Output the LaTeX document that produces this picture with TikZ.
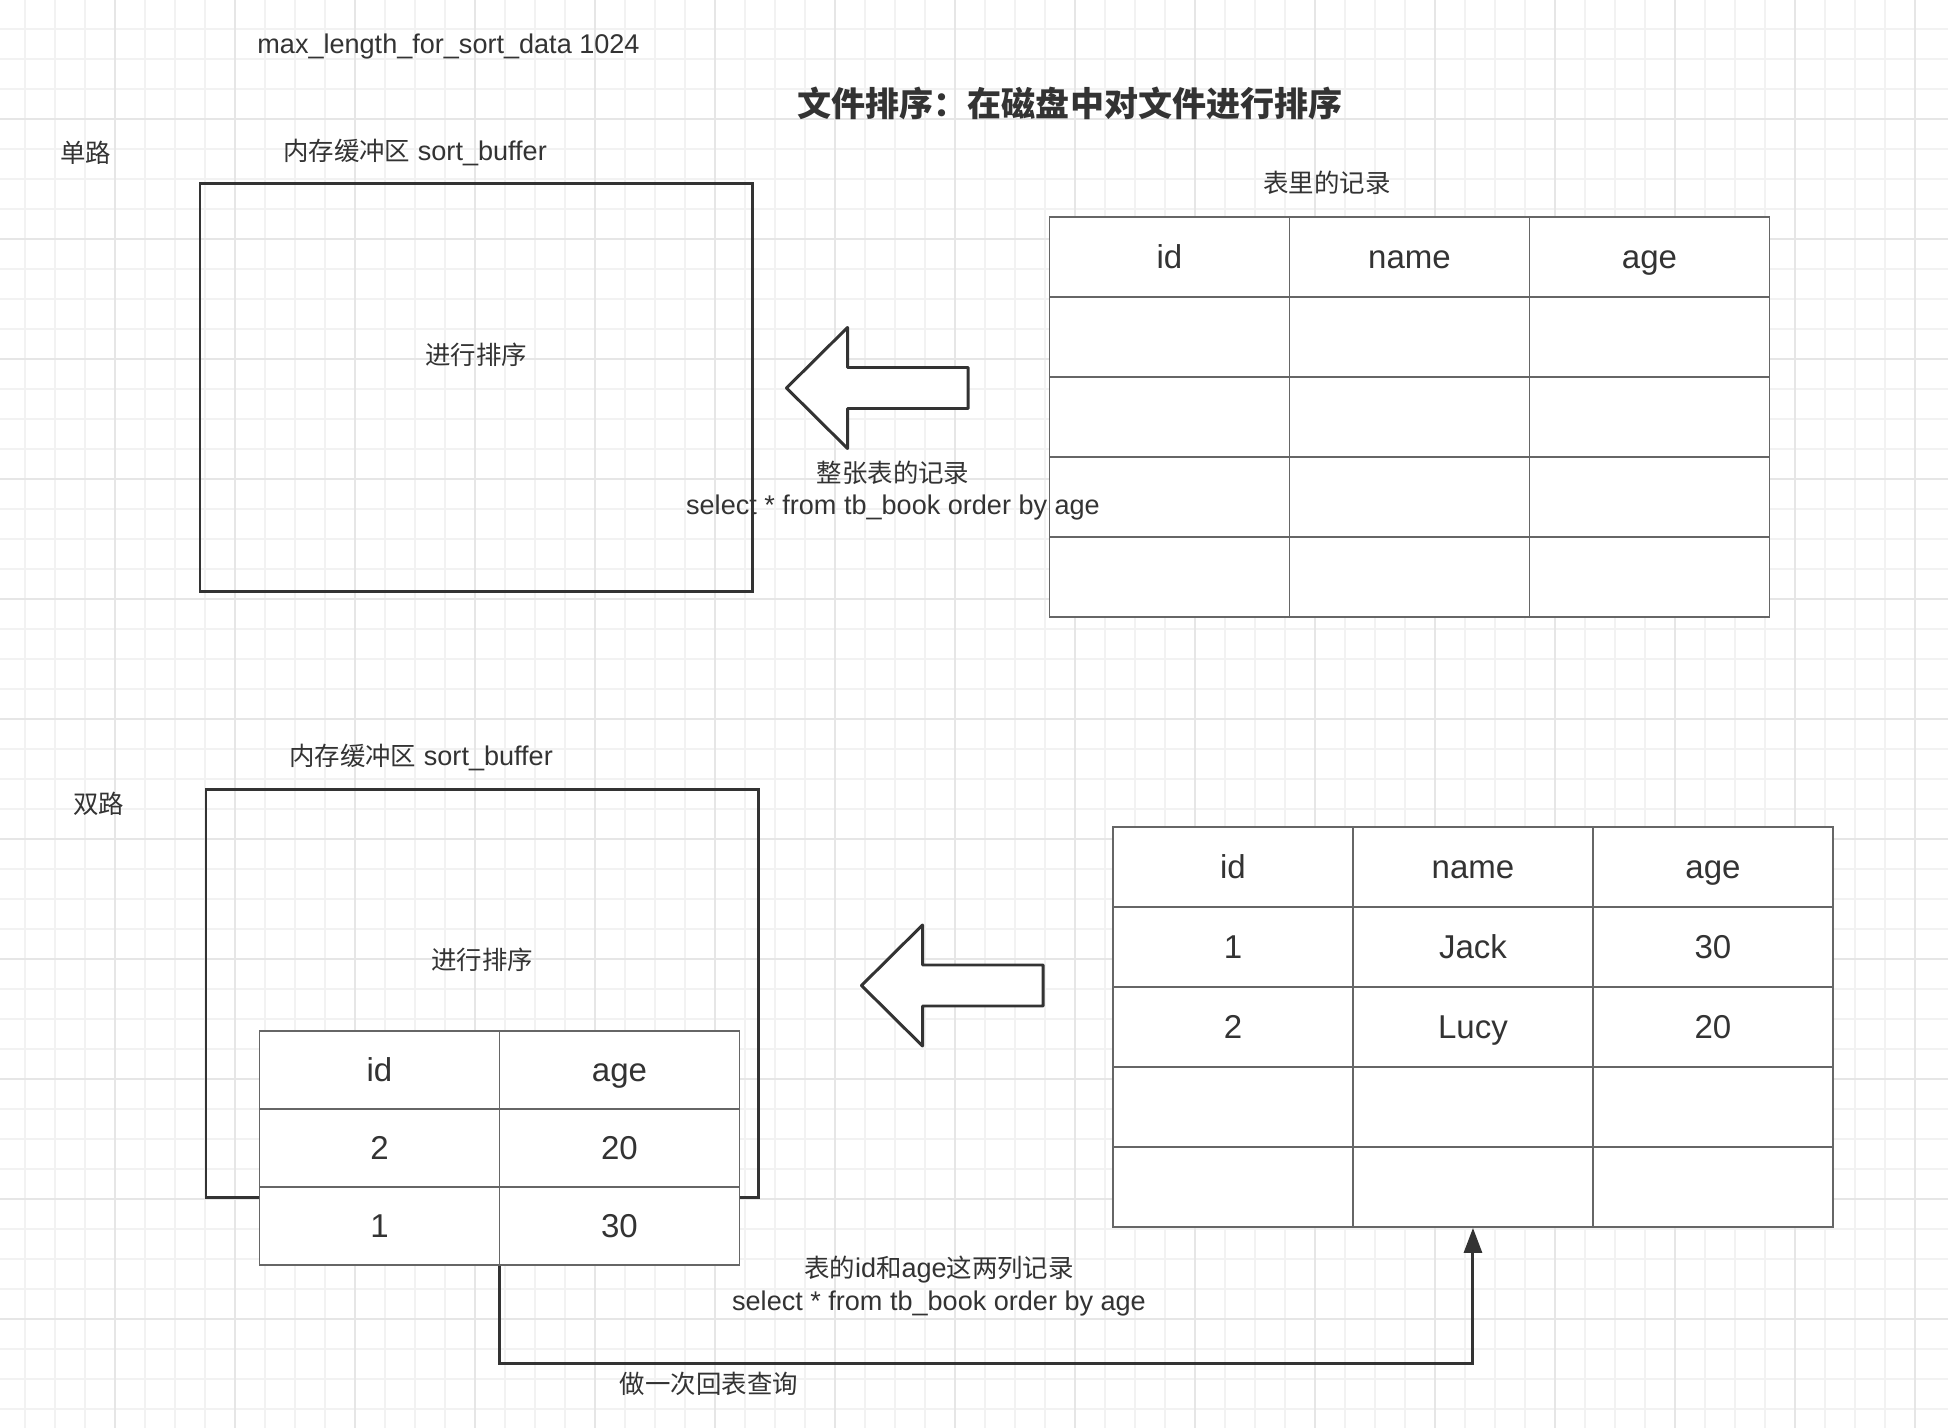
\documentclass[tikz,border=0pt]{standalone}
\usepackage{fontspec}
\setmainfont{Liberation Sans}
\newfontfamily\cjk{Noto Sans CJK SC}[Scale=0.94]
\usetikzlibrary{arrows.meta, matrix, positioning}
\definecolor{inkGrey}{HTML}{333333}
\definecolor{lineGrey}{HTML}{666666}
\definecolor{gridMinor}{HTML}{F2F2F2}
\definecolor{gridMajor}{HTML}{E6E6E6}
\tikzset{
  % paper grid behind everything
  gridminor/.style  = {gridMinor, line width=0.8pt},
  gridmajor/.style  = {gridMajor, line width=1.0pt},
  bufbox/.style     = {draw=inkGrey, line width=1.7pt, inner sep=0pt,
                       minimum width=11.04cm, minimum height=8.16cm},
  cell/.style       = {draw=lineGrey, line width=1.1pt, fill=white, inner sep=0pt,
                       outer sep=0pt, minimum width=4.8cm, minimum height=1.6cm,
                       text height=15pt, text depth=1.5pt, anchor=center,
                       text=inkGrey, font=\fontsize{18.8}{22}\selectfont},
  rectab/.style     = {matrix of nodes, nodes in empty cells, inner sep=0pt,
                       outer sep=0pt, column sep=-1.1pt, row sep=-1.1pt,
                       anchor=north west, nodes={cell}},
  blockarrow/.style = {draw=inkGrey, fill=white, line width=1.7pt, line join=round},
  conn/.style       = {draw=inkGrey, line width=1.7pt,
                       -{Triangle[length=5mm, width=3.6mm]}},
  lbl/.style        = {font=\fontsize{15.4}{18.4}\selectfont, text=inkGrey,
                       align=center, inner sep=0pt},
  ttl/.style        = {font=\fontsize{20.6}{24}\selectfont, text=inkGrey, inner sep=0pt},
}

\begin{document}
\begin{tikzpicture}[x=1cm,y=1cm]
  \fill[white] (0,0) rectangle (38.96,-28.56);
  \useasboundingbox (0,0) rectangle (38.96,-28.56);
  % grid
  \foreach \gx in {0.5,1.1,...,38.9} \draw[gridminor] (\gx,0) -- (\gx,-28.56);
  \foreach \gy in {0.58,1.18,...,28.56} \draw[gridminor] (0,-\gy) -- (38.96,-\gy);
  \foreach \gx in {2.3,4.7,...,38.9} \draw[gridmajor] (\gx,0) -- (\gx,-28.56);
  \foreach \gy in {2.38,4.78,...,28.56} \draw[gridmajor] (0,-\gy) -- (38.96,-\gy);

  \node[lbl] (maxLen) at (8.97,-0.94) {max\_length\_for\_sort\_data 1024};
  \node[ttl] (title) at (21.4,-2.06) {\cjk\bfseries 文件排序：在磁盘中对文件进行排序};

  % single pass
  \node[lbl] (oneWay) at (1.72,-3.06) {\cjk 单路};
  \node[lbl] (oneBufLbl) at (8.3,-3.06) {{\cjk 内存缓冲区} sort\_buffer};
  \node[bufbox] (oneBuf) at (9.52,-7.75) {};
  \node[lbl] (oneSort) at (9.52,-7.1) {\cjk 进行排序};
  \node[lbl] (recLbl) at (26.54,-3.66) {\cjk 表里的记录};
  \matrix (allRec) [rectab] at (20.97,-4.32) {
    id & name & age \\
       &      &     \\
       &      &     \\
       &      &     \\
       &      &     \\
  };

  % two passes
  \node[lbl] (twoWay) at (1.98,-16.08) {\cjk 双路};
  \node[lbl] (twoBufLbl) at (8.42,-15.16) {{\cjk 内存缓冲区} sort\_buffer};
  \node[bufbox] (twoBuf) at (9.64,-19.87) {};
  \node[lbl] (twoSort) at (9.64,-19.2) {\cjk 进行排序};
  \matrix (pairRec) [rectab, nodes={minimum height=1.56cm}] at (5.17,-20.6) {
    id & age \\
    2  & 20  \\
    1  & 30  \\
  };
  \matrix (bigRec) [rectab] at (22.24,-16.52) {
    id & name & age \\
    1  & Jack & 30  \\
    2  & Lucy & 20  \\
       &      &     \\
       &      &     \\
  };

  % fat arrows from table to buffer
  \foreach \tx/\ty in {15.73/-7.76, 17.23/-19.71}
    \draw[blockarrow] (\tx,\ty) -- ++(1.22,1.21) -- ++(0,-0.8) -- ++(2.41,0)
      -- ++(0,-0.82) -- ++(-2.41,0) -- ++(0,-0.8) -- cycle;
  \node[lbl] (oneFetch) at (17.86,-9.815)
    {{\cjk 整张表的记录}\\select * from tb\_book order by age};
  \node[lbl] (twoFetch) at (18.78,-25.72)
    {{\cjk 表的}id{\cjk 和}age{\cjk 这两列记录}\\select * from tb\_book order by age};

  % lookup back into the table
  \draw[conn] (pairRec.south) -- ++(0,-1.96) -| (bigRec.south);
  \node[lbl] (backLbl) at (14.18,-27.68) {\cjk 做一次回表查询};
\end{tikzpicture}
\end{document}
